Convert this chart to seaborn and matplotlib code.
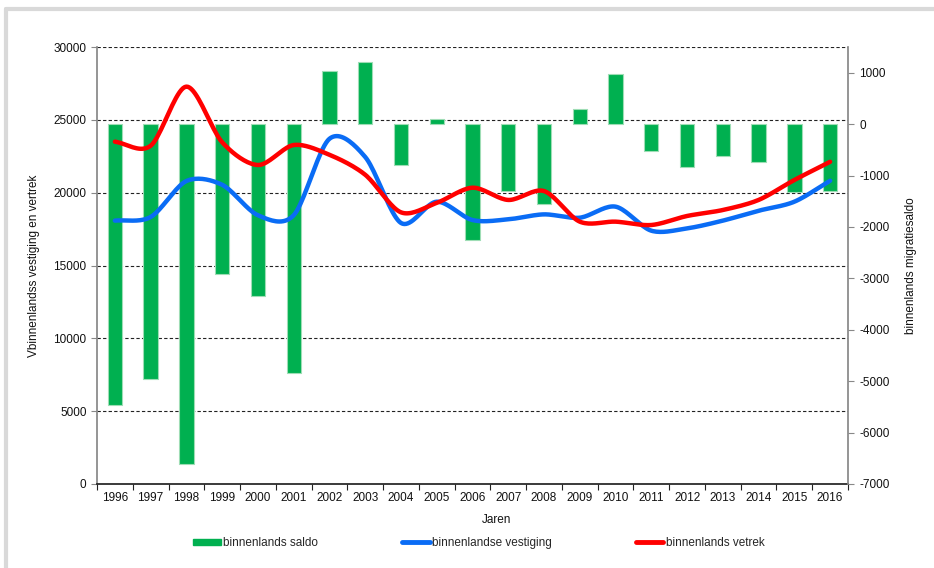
import numpy as np
import pandas as pd
import matplotlib
matplotlib.use("Agg")
import matplotlib.pyplot as plt
import seaborn as sns
from matplotlib.patches import Patch
from matplotlib.lines import Line2D
from matplotlib.ticker import MultipleLocator, FixedLocator

years = [str(y) for y in range(1996, 2017)]
saldo = [-5460, -4950, -6620, -2910, -3340, -4850, 1040, 1200, -790, 100,
         -2250, -1310, -1550, 300, 980, -520, -830, -620, -740, -1330, -1310]
vestiging = [18080, 18330, 20800, 20540, 18450, 18450, 23700, 22450, 17920, 19380,
             18120, 18170, 18510, 18280, 19040, 17390, 17550, 18080, 18760, 19380, 20820]
vetrek = [23500, 23220, 27280, 23460, 21900, 23270, 22600, 21230, 18650, 19300,
          20340, 19500, 20110, 18010, 18010, 17780, 18400, 18810, 19500, 20870, 22120]

label_saldo = "binnenlands saldo"
label_vest = "binnenlandse vestiging"
label_vert = "binnenlands vetrek"

sns.set_theme(style="white")
plt.rcParams['font.family'] = ['Liberation Sans', 'DejaVu Sans']

GREEN = "#00B050"
BLUE = "#0A6CF5"
RED = "#FF0000"
FS = 8.5

fig = plt.figure(figsize=(9.34, 5.68), dpi=100)
ax = fig.add_axes([97/934, 1-484/568, (848-97)/934, (484-47)/568])
ax2 = ax.twinx()
ax3 = ax.twinx()

n = len(years)
# gridlines on the left scale
ax.set_xlim(-0.5, n-0.5)
ax.set_ylim(0, 30000)
ax.yaxis.set_major_locator(MultipleLocator(5000))
for v in range(5000, 30001, 5000):
    ax.axhline(v, color="#222222", lw=0.8, ls=(0, (3, 2)), zorder=0)
ax.set_facecolor("white")

# bars on right scale
df_bar = pd.DataFrame({"jaar": years, "saldo": saldo})
sns.barplot(data=df_bar, x="jaar", y="saldo", ax=ax2, color=GREEN, width=0.4,
            edgecolor="#9EDDB5", linewidth=0.8, saturation=1)
for p in ax2.patches:
    p.set_facecolor(GREEN)
ax2.set_ylim(-7000, 1500)
ax2.yaxis.set_major_locator(FixedLocator(list(range(-7000, 1001, 1000))))
ax2.set_xlim(-0.5, n-0.5)

# smoothed lines on left scale
def catmull(xp, yp, k=20):
    xp = np.asarray(xp, float); yp = np.asarray(yp, float)
    P = np.column_stack([xp, yp])
    P = np.vstack([P[0] - (P[1]-P[0]), P, P[-1] + (P[-1]-P[-2])])
    out = []
    for i in range(1, len(P)-2):
        p0, p1, p2, p3 = P[i-1], P[i], P[i+1], P[i+2]
        t = np.linspace(0, 1, k, endpoint=(i == len(P)-3))[:, None]
        m1 = (p2 - p0) / 2 * 0.9
        m2 = (p3 - p1) / 2 * 0.9
        h00 = 2*t**3 - 3*t**2 + 1; h10 = t**3 - 2*t**2 + t
        h01 = -2*t**3 + 3*t**2; h11 = t**3 - t**2
        out.append(h00*p1 + h10*m1 + h01*p2 + h11*m2)
    C = np.vstack(out)
    return C[:, 0], C[:, 1]

xi = np.arange(n)
for vals, col in [(vestiging, BLUE), (vetrek, RED)]:
    sx, sy = catmull(xi, vals)
    sns.lineplot(x=sx, y=sy, ax=ax3, color=col, lw=3.2, sort=False,
                 estimator=None, solid_capstyle="round")
ax3.set_ylim(0, 30000)
ax3.set_xlim(-0.5, n-0.5)
ax3.set_yticks([])
ax3.set_ylabel("")
for s in ax3.spines.values():
    s.set_visible(False)

# spines
for a in (ax, ax2):
    a.spines["top"].set_visible(False)
ax.spines["left"].set_color("#888888")
ax.spines["bottom"].set_color("#222222")
ax.spines["right"].set_visible(False)
ax2.spines["left"].set_visible(False)
ax2.spines["bottom"].set_visible(False)
ax2.spines["right"].set_color("#888888")

# x ticks
ax.set_xticks(xi)
ax.set_xticklabels(years, fontsize=FS, color="#111111")
ax.set_xticks(np.arange(-0.5, n, 1), minor=True)
ax.tick_params(axis="x", which="major", length=0, pad=6)
ax.tick_params(axis="x", which="minor", length=4, direction="out", color="#222222", width=0.8, bottom=True)
ax.tick_params(axis="y", length=4, direction="out", color="#888888", width=0.8, labelsize=FS, labelcolor="#111111", left=True)
ax.set_yticklabels([str(int(v)) for v in ax.get_yticks()])
ax2.tick_params(axis="y", length=4, direction="out", color="#888888", width=0.8, labelsize=FS, labelcolor="#111111", right=True, pad=4)
ax2.set_yticklabels([str(int(v)) for v in ax2.get_yticks()])
ax2.set_xlabel("")
ax2.tick_params(axis="x", bottom=False, labelbottom=False)
ax3.tick_params(axis="x", bottom=False, labelbottom=False)

ax.set_xlabel("Jaren", fontsize=FS, color="#111111")
ax.xaxis.set_label_coords((497-97)/(848-97), -(520-484)/(484-47), transform=ax.transAxes)
ax.xaxis.label.set_va("center")
ax.set_ylabel("Vbinnenlandss vestiging en vertrek", fontsize=FS, color="#111111", labelpad=10)
ax2.set_ylabel("binnenlands migratiesaldo", fontsize=FS, color="#111111", labelpad=11.5)

handles = [Patch(facecolor=GREEN, edgecolor=GREEN),
           Line2D([0], [0], color=BLUE, lw=3.5, solid_capstyle="round"),
           Line2D([0], [0], color=RED, lw=3.5, solid_capstyle="round")]
leg = fig.legend(handles, [label_saldo, label_vest, label_vert], ncol=3,
                 loc="center left", bbox_to_anchor=(193/934, 1-543/568), frameon=False,
                 fontsize=FS, handlelength=2.35, handleheight=0.45, handletextpad=0.2,
                 columnspacing=7.1, borderpad=0, borderaxespad=0)

# figure frame (light gray)
fig.add_artist(Line2D([6/934, 6/934], [0, 1-9/568], transform=fig.transFigure, color="#D9D9D9", lw=3))
fig.add_artist(Line2D([6/934, 1], [1-9/568, 1-9/568], transform=fig.transFigure, color="#D9D9D9", lw=3))

fig.savefig("out.png", dpi=100)
